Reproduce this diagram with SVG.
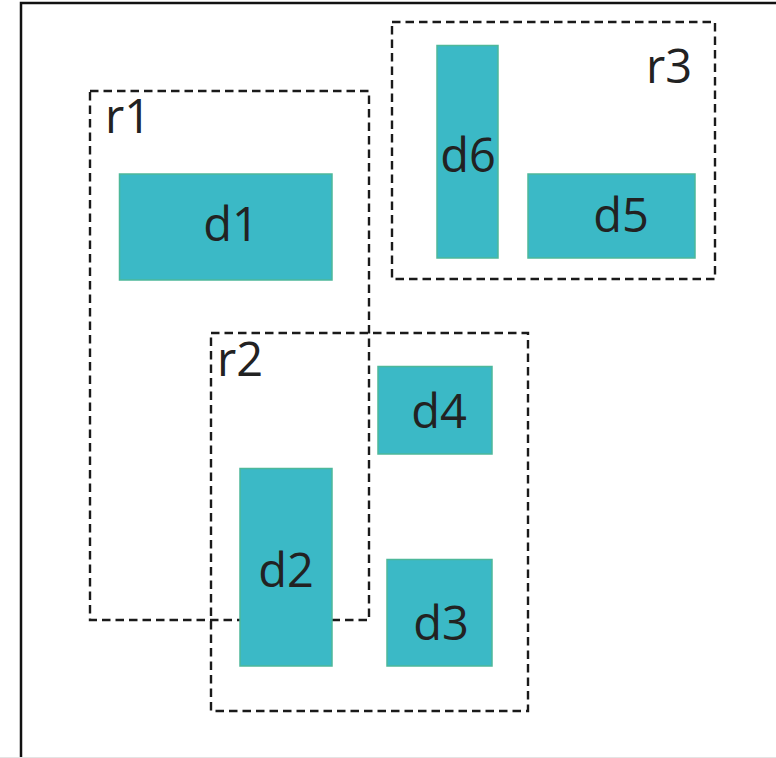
<svg xmlns="http://www.w3.org/2000/svg" width="776" height="758" viewBox="0 0 776 758">
<style>
.region{fill:none;stroke:#1a1a1a;stroke-width:2.4;stroke-dasharray:8.5 5}
.node{fill:#3BB9C6;stroke:#4DB89A;stroke-width:1.5}
.lbl{font-family:"Open Sans","Noto Sans",sans-serif;font-size:47px;fill:#222}
</style>
<rect width="776" height="758" fill="#fff"/>
<rect x="21" y="3" width="780" height="800" fill="none" stroke="#111" stroke-width="2.5"/>
<line x1="0" y1="757.5" x2="776" y2="757.5" stroke="#e4e4e4" stroke-width="1"/>
<g id="r1"><rect class="region" x="90" y="91" width="279" height="529"/><text class="lbl" x="105" y="133">r1</text></g>
<g id="r2"><rect class="region" x="211" y="333" width="317" height="378"/><text class="lbl" x="217" y="376">r2</text></g>
<g id="r3"><rect class="region" x="392" y="22" width="323" height="257"/><text class="lbl" x="646" y="83">r3</text></g>
<g id="d1"><rect class="node" x="119.5" y="174" width="212.5" height="106"/><text class="lbl" x="231" y="241" text-anchor="middle">d1</text></g>
<g id="d6"><rect class="node" x="437" y="45.5" width="61" height="212.5"/><text class="lbl" x="468" y="172" text-anchor="middle">d6</text></g>
<g id="d5"><rect class="node" x="528" y="174" width="167" height="84"/><text class="lbl" x="621" y="232" text-anchor="middle">d5</text></g>
<g id="d4"><rect class="node" x="378" y="366.5" width="114" height="87.5"/><text class="lbl" x="439" y="428" text-anchor="middle">d4</text></g>
<g id="d2"><rect class="node" x="240" y="468.5" width="92" height="197.5"/><text class="lbl" x="286" y="587" text-anchor="middle">d2</text></g>
<g id="d3"><rect class="node" x="387" y="559.5" width="105" height="106.5"/><text class="lbl" x="441" y="640" text-anchor="middle">d3</text></g>
<g id="connectors"></g>
</svg>
